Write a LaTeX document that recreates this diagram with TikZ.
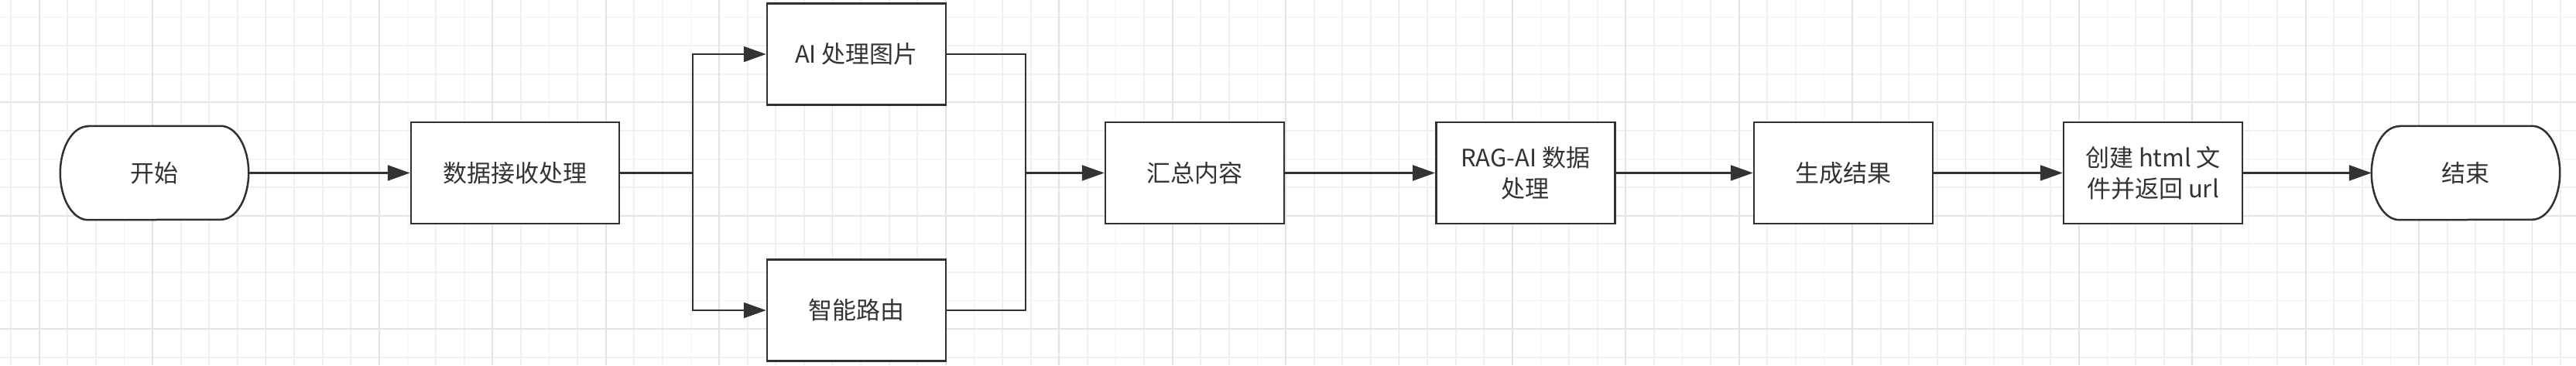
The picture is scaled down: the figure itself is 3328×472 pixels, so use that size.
\documentclass[tikz,border=0pt]{standalone}
\usepackage{fontspec}
\setmainfont{Noto Sans CJK SC}
\usetikzlibrary{arrows.meta}
\definecolor{ink}{HTML}{333333}
\definecolor{edge}{HTML}{2E3236}
\definecolor{gminor}{HTML}{F1F1F1}
\definecolor{gmajor}{HTML}{E4E4E4}
\pgfdeclarelayer{gridlayer}
\pgfdeclarelayer{shapelayer}
\pgfsetlayers{gridlayer,shapelayer,main}
\newcommand\termoutline[1]{%
  \begin{pgfonlayer}{shapelayer}
  \draw[termline] ([xshift=36pt]#1.north west) -- ([xshift=-36pt]#1.north east)
    arc[start angle=90,end angle=-90,x radius=36pt,y radius=60.5pt]
    -- ([xshift=36pt]#1.south west)
    arc[start angle=270,end angle=90,x radius=36pt,y radius=60.5pt] -- cycle;
  \end{pgfonlayer}}
\begin{document}
\begin{tikzpicture}[x=1pt,y=-1pt,
  txt/.style={text=ink,font=\fontsize{31}{40}\selectfont,align=center,inner sep=0pt},
  box/.style={txt,draw=edge,line width=2.5pt,fill=white,minimum width=231pt,minimum height=131pt},
  widebox/.style={box,minimum width=269pt},
  term/.style={txt,minimum width=243pt,minimum height=121pt},
  termline/.style={draw=edge,line width=2.5pt,fill=white},
  conn/.style={draw=ink,line width=2.3pt},
  arr/.style={conn,-{Triangle[length=29pt,width=20pt]}},
  gminorline/.style={draw=gminor,line width=1.7pt},
  gmajorline/.style={draw=gmajor,line width=1.7pt}]
\useasboundingbox (0,0) rectangle (3328,472);
\begin{pgfonlayer}{gridlayer}
  \fill[white] (0,0) rectangle (3328,472);
  \foreach \i in {0,...,91} \draw[gminorline] ({14.1+\i*36.6},0) -- ++(0,472);
  \foreach \j in {0,...,12} \draw[gminorline] (0,{22.5+\j*36.6}) -- ++(3328,0);
  \foreach \i in {0,...,22} \draw[gmajorline] ({50.7+\i*146.4},0) -- ++(0,472);
  \foreach \j in {1,2,3} \draw[gmajorline] (0,{-14.1+\j*146.4}) -- ++(3328,0);
\end{pgfonlayer}

\node[term] (start) at (199.5,223.5) {开始};
\termoutline{start}
\node[widebox] (recv) at (665.5,223.5) {数据接收处理};
\node[box] (ai) at (1106.5,70) {AI 处理图片};
\node[box] (route) at (1106.5,401) {智能路由};
\node[box] (sum) at (1543.5,223.5) {汇总内容};
\node[box] (rag) at (1970.8,223.5) {RAG-AI 数据\\处理};
\node[box] (gen) at (2381.5,223.5) {生成结果};
\node[box] (html) at (2781.5,223.5) {创建 html 文\\件并返回 url};
\node[term] (end) at (3185.5,223.5) {结束};
\termoutline{end}

\coordinate (split) at (895,223.5);
\coordinate (merge) at (1325,223.5);

\draw[arr] (start.east) -- (recv.west);
\draw[arr] (recv.east) -- (split) |- (ai.west);
\draw[arr] (recv.east) -- (split) |- (route.west);
\draw[conn] (ai.east) -| (merge);
\draw[conn] (route.east) -| (merge);
\draw[arr] (merge) -- (sum.west);
\draw[arr] (sum.east) -- (rag.west);
\draw[arr] (rag.east) -- (gen.west);
\draw[arr] (gen.east) -- (html.west);
\draw[arr] (html.east) -- (end.west);
\end{tikzpicture}
\end{document}
